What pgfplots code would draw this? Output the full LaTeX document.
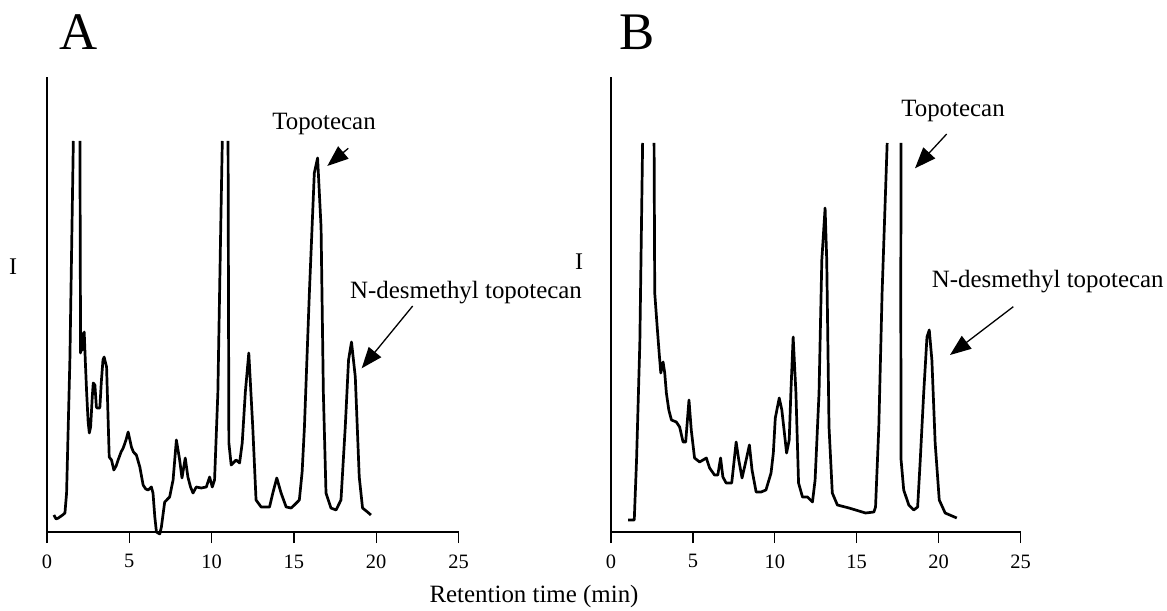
\documentclass[border=0pt]{standalone}
\usepackage{pgfplots}
\pgfplotsset{compat=1.18}
\usepackage{pgfplotstable}
\usepackage{fontspec}
\setmainfont{Liberation Serif}
\usetikzlibrary{arrows.meta}

\pgfplotstableread{
x y
0.42 17
0.55 13
0.69 14
0.95 17
1.09 19
1.19 39
1.39 172
1.60 391
nan nan
2.00 391
2.04 179
2.10 199
2.16 182
2.26 200
2.33 170
2.41 139
2.50 110
2.57 99
2.65 105
2.75 135
2.81 149
2.91 147
3.00 125
3.05 124
3.21 124
3.30 150
3.40 172
3.47 175
3.62 165
3.70 120
3.78 75
3.92 72
4.06 62
4.20 66
4.32 72
4.50 80
4.63 84
4.80 92
4.93 100
5.13 85
5.25 80
5.43 77
5.64 65
5.84 47
6.00 43
6.14 42
6.34 45
6.44 39
6.55 15
6.65 0
6.85 -2
6.95 5
7.15 30
7.45 35
7.66 52
7.86 92
8.06 72
8.20 54
8.40 74
8.56 55
8.72 45
8.87 39
9.07 45
9.37 44
9.68 45
9.88 55
10.04 45
10.18 52
10.38 139
10.55 300
10.65 391
nan nan
11.00 391
11.05 89
11.19 67
11.49 72
11.70 69
11.86 89
12.05 140
12.26 179
12.50 105
12.70 32
13.01 25
13.52 25
13.72 39
13.96 54
14.22 39
14.53 25
14.83 24
15.03 27
15.33 32
15.50 60
15.64 105
15.94 239
16.24 359
16.44 374
16.65 305
16.79 139
16.95 39
17.25 24
17.56 22
17.86 32
18.12 105
18.32 172
18.50 190
18.73 155
18.97 55
19.17 24
19.47 20
19.68 17
}\dataA

\pgfplotstableread{
x y
1.05 12
1.42 12
1.56 72
1.76 189
1.93 389
nan nan
2.63 389
2.67 239
2.82 205
2.94 179
3.04 159
3.18 170
3.28 159
3.38 139
3.53 122
3.69 112
3.99 110
4.19 105
4.40 90
4.56 90
4.76 132
4.90 102
5.10 74
5.41 70
5.82 74
6.02 64
6.32 57
6.52 57
6.69 74
6.83 55
7.03 49
7.37 49
7.64 90
7.80 72
8.00 54
8.25 72
8.45 87
8.61 62
8.86 40
9.16 40
9.46 42
9.77 59
9.91 79
10.03 114
10.27 134
10.43 122
10.72 79
10.88 92
10.98 139
11.12 195
11.29 139
11.45 49
11.69 35
12.00 35
12.30 30
12.46 52
12.70 139
12.87 272
13.07 324
13.17 272
13.31 105
13.51 39
13.82 27
14.53 24
15.54 19
16.05 20
16.15 25
16.35 105
16.55 239
16.86 389
nan nan
17.71 389
17.69 239
17.71 72
17.87 42
18.18 27
18.48 22
18.72 25
18.88 72
19.09 139
19.29 195
19.43 202
19.59 172
19.79 89
20.04 32
20.40 19
21.11 14
}\dataB

\pgfplotsset{
  chrom/.style={
    scale only axis,
    height=455bp,
    xmin=0, xmax=25, ymin=0, ymax=455,
    axis lines=left,
    axis line style={-, line width=1.3bp},
    xtick={0,5,10,15,20,25},
    ytick=\empty,
    tick align=outside,
    major tick length=11bp,
    xtick style={line width=1.3bp, black},
    tick label style={font=\fontsize{20.5}{24}\selectfont},
    xticklabel style={yshift=-8bp},
    /pgf/number format/assume math mode=true,
    clip=false,
    unbounded coords=jump,
    anchor=south west,
  },
  trace/.style={black, line width=2.7bp, line join=round, no marks},
}

\begin{document}
\begin{tikzpicture}
\useasboundingbox (0,0) rectangle (1167bp,611bp);

\begin{axis}[chrom, at={(47bp,79bp)}, width=411.5bp]
\addplot[trace] table[x=x,y=y] {\dataA};
\end{axis}

\begin{axis}[chrom, at={(611bp,79bp)}, width=409.5bp]
\addplot[trace] table[x=x,y=y] {\dataB};
\end{axis}

% panel letters
\node[anchor=base, font=\fontsize{53}{60}\selectfont, inner sep=0] at (79bp,561bp) {A};
\node[anchor=base, font=\fontsize{53}{60}\selectfont, inner sep=0] at (636.7bp,561bp) {B};

% y labels
\node[font=\fontsize{24}{28}\selectfont, inner sep=0] at (13bp,344bp) {I};
\node[font=\fontsize{24}{28}\selectfont, inner sep=0] at (579bp,349bp) {I};

% annotations
\begin{scope}[font=\fontsize{25}{30}\selectfont]
\node[anchor=base, inner sep=0] at (324bp,481bp) {Topotecan};
\node[anchor=base west, inner sep=0] at (350bp,312bp) {N-desmethyl topotecan};
\node[anchor=base, inner sep=0] at (953bp,494bp) {Topotecan};
\node[anchor=base west, inner sep=0] at (931.7bp,323bp) {N-desmethyl topotecan};
\node[anchor=base, inner sep=0] at (534bp,9bp) {Retention time (min)};
\end{scope}

\begin{scope}[line width=1.3bp, -{Triangle[length=21bp,width=16bp]}]
\draw (348.3bp,462.7bp) -- (327.3bp,445bp);
\draw (412.7bp,305bp) -- (361.7bp,242.7bp);
\draw (946.7bp,477bp) -- (915bp,442.7bp);
\draw (1013.3bp,304.3bp) -- (950bp,256bp);
\end{scope}
\end{tikzpicture}
\end{document}
